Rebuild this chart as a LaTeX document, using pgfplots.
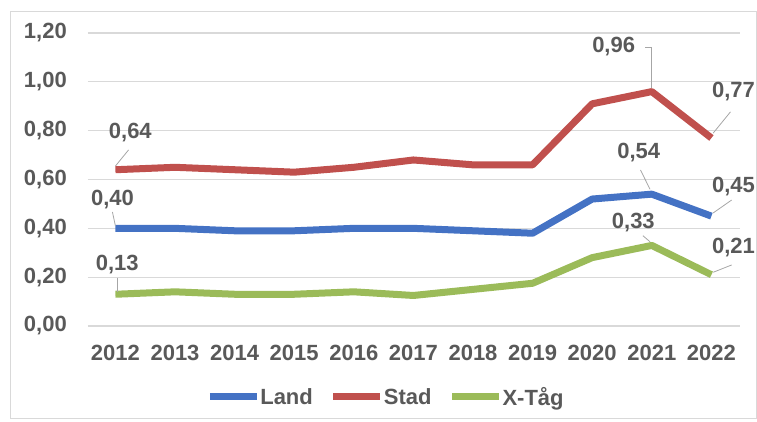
\documentclass[border=0pt]{standalone}
\usepackage{fontspec}
\setmainfont{Liberation Sans}
\usepackage{pgfplots}
\pgfplotsset{compat=1.18}

\definecolor{landc}{HTML}{4472C4}
\definecolor{stadc}{HTML}{C0504D}
\definecolor{xtagc}{HTML}{9BBB59}
\definecolor{txt}{HTML}{595959}
\definecolor{gridc}{HTML}{D9D9D9}
\definecolor{lead}{HTML}{A6A6A6}
\newcommand\lab{\fontsize{22}{26}\selectfont\bfseries}

\begin{document}
\begin{tikzpicture}
\useasboundingbox (0,0) rectangle (757pt,421pt);
\draw[gridc, line width=1pt] (10pt,3pt) rectangle (756.5pt,409pt);

\begin{axis}[
    at={(88pt,95pt)}, anchor=south west,
    scale only axis,
    width=652pt, height=293pt,
    xmin=-0.46, xmax=10.48,
    ymin=0, ymax=1.2,
    xtick={0,...,10},
    xticklabels={2012,2013,2014,2015,2016,2017,2018,2019,2020,2021,2022},
    ytick={0,0.2,...,1.2},
    yticklabel style={/pgf/number format/fixed, /pgf/number format/fixed zerofill,
        /pgf/number format/precision=2, /pgf/number format/use comma,
        /pgf/number format/assume math mode=true, xshift=-21pt},
    every tick label/.append style={font=\lab, text=txt, inner sep=0pt},
    xticklabel style={yshift=-19pt},
    major tick length=0pt,
    axis line style={draw=none},
    xmajorgrids=false,
    ymajorgrids=true,
    major grid style={gridc, line width=1.2pt},
    clip=false,
    legend columns=3,
    legend style={at={(0.4555,-0.2423)}, anchor=center, draw=none, fill=none,
        font=\lab, text=txt, inner sep=0pt,
        /tikz/every even column/.append style={column sep=17pt},
        nodes={inner sep=0pt}},
    legend image code/.code={\draw[#1, line width=7pt] (0pt,0pt) -- (47pt,0pt);},
]

\addplot[landc, line width=7pt, line join=round] coordinates {
    (0,0.40) (1,0.40) (2,0.39) (3,0.39) (4,0.40) (5,0.40)
    (6,0.39) (7,0.38) (8,0.52) (9,0.54) (10,0.45)
};
\addlegendentry{Land}

\addplot[stadc, line width=7pt, line join=round] coordinates {
    (0,0.64) (1,0.65) (2,0.64) (3,0.63) (4,0.65) (5,0.68)
    (6,0.66) (7,0.66) (8,0.91) (9,0.96) (10,0.77)
};
\addlegendentry{Stad}

\addplot[xtagc, line width=7pt, line join=round] coordinates {
    (0,0.13) (1,0.14) (2,0.13) (3,0.13) (4,0.14) (5,0.125)
    (6,0.15) (7,0.175) (8,0.28) (9,0.33) (10,0.21)
};
\addlegendentry{X-Tåg}

% data labels with leader lines
\begin{scope}[every node/.style={font=\lab, text=txt, inner sep=0pt}]
\draw[lead, line width=0.8pt] (axis cs:0.22,0.721) -- (axis cs:0,0.655);
\node at (axis cs:0.25,0.791) {0,64};
\draw[lead, line width=0.8pt] (axis cs:-0.05,0.467) -- (axis cs:0,0.41);
\node at (axis cs:-0.05,0.516) {0,40};
\draw[lead, line width=0.8pt] (axis cs:0.03,0.197) -- (axis cs:0.03,0.14);
\node at (axis cs:0.03,0.25) {0,13};
\draw[lead, line width=0.8pt] (axis cs:8.89,1.143) -- (axis cs:8.99,1.143) -- (axis cs:8.99,0.975);
\node at (axis cs:8.36,1.143) {0,96};
\draw[lead, line width=0.8pt] (axis cs:10.32,0.877) -- (axis cs:10.03,0.79);
\node at (axis cs:10.37,0.959) {0,77};
\draw[lead, line width=0.8pt] (axis cs:8.81,0.639) -- (axis cs:8.97,0.56);
\node at (axis cs:8.78,0.709) {0,54};
\draw[lead, line width=0.8pt] (axis cs:10.34,0.516) -- (axis cs:10.03,0.463);
\node at (axis cs:10.37,0.57) {0,45};
\draw[lead, line width=0.8pt] (axis cs:8.85,0.37) -- (axis cs:8.97,0.345);
\node at (axis cs:8.69,0.422) {0,33};
\draw[lead, line width=0.8pt] (axis cs:10.34,0.25) -- (axis cs:10.03,0.22);
\node at (axis cs:10.37,0.32) {0,21};
\end{scope}

\end{axis}
\end{tikzpicture}
\end{document}
